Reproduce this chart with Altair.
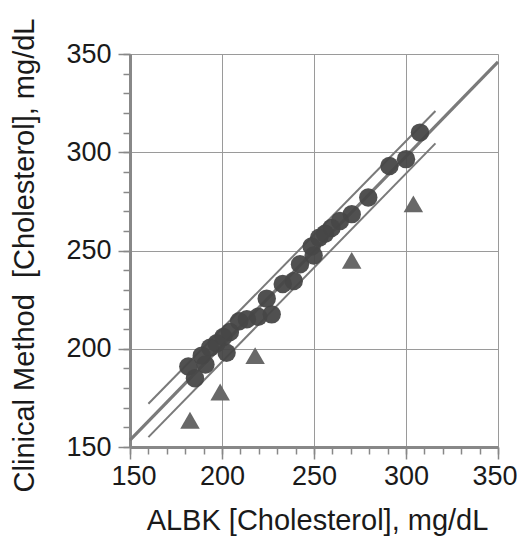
import altair as alt
import pandas as pd

# Circles: ALBK vs clinical method
circle_x = [307.6, 300.0, 291.0, 279.5, 270.5, 264.1, 259.5, 256.0, 252.8, 248.7,
            249.8, 242.4, 239.0, 233.0, 224.3, 227.0, 219.7, 213.5, 209.3, 204.3,
            200.7, 197.1, 193.5, 202.5, 189.0, 191.0, 181.7, 185.3]
circle_y = [310.0, 296.5, 293.0, 277.0, 268.5, 265.0, 261.5, 258.5, 256.5, 252.0,
            247.5, 243.0, 234.5, 233.0, 225.5, 217.5, 216.3, 215.0, 214.0, 208.5,
            206.0, 202.8, 200.5, 198.0, 196.5, 192.0, 191.0, 185.0]

# Triangles: outliers
tri_x = [304.0, 270.5, 218.0, 199.0, 182.6]
tri_y = [273.7, 245.0, 196.5, 178.0, 163.6]

# Regression line and confidence band lines
fit_x = [150, 350]
fit_y = [153.5, 346.0]
upper_x = [160, 316]
upper_y = [172.0, 321.0]
lower_x = [160, 316]
lower_y = [155.0, 304.5]

major_ticks = [150, 200, 250, 300, 350]
minor_ticks = list(range(150, 351, 10))

FONT = "Liberation Sans"
TXT = "#1a1a1a"
AX = "#888888"

xs = alt.Scale(domain=[150, 350], nice=False, zero=False)
ys = alt.Scale(domain=[150, 350], nice=False, zero=False)

x_axis = alt.Axis(orient="bottom", values=major_ticks, tickSize=12, tickColor=AX, tickWidth=1.5,
                  domainColor=AX, domainWidth=3, grid=True, gridColor="#9a9a9a", gridWidth=1,
                  labelFont=FONT, labelFontSize=27, labelColor=TXT, labelPadding=4,
                  labelFlush=True, labelFlushOffset=19, labelOverlap=False,
                  title="ALBK [Cholesterol], mg/dL", titleFont=FONT, titleFontSize=29,
                  titleFontWeight="normal", titleColor=TXT, titleX=187, titleY=82,
                  titleBaseline="alphabetic", titleAlign="center")
y_axis = alt.Axis(orient="left", values=major_ticks, tickSize=12, tickColor=AX, tickWidth=1.5,
                  domainColor=AX, domainWidth=3, grid=True, gridColor="#9a9a9a", gridWidth=1,
                  labelFont=FONT, labelFontSize=27, labelColor=TXT, labelPadding=7,
                  labelFlush=False, labelOverlap=False,
                  title="Clinical Method \u00a0[Cholesterol], mg/dL", titleFont=FONT, titleFontSize=29,
                  titleFontWeight="normal", titleColor=TXT, titleX=-97, titleY=201,
                  titleAngle=-90, titleBaseline="alphabetic", titleAlign="center")

x_minor = alt.Axis(orient="bottom", values=minor_ticks, tickSize=7, tickColor=AX, tickWidth=1.5,
                   labels=False, domain=False, grid=False, title=None)
y_minor = alt.Axis(orient="left", values=minor_ticks, tickSize=7, tickColor=AX, tickWidth=1.5,
                   labels=False, domain=False, grid=False, title=None)

circles = pd.DataFrame({"x": circle_x, "y": circle_y})
tris = pd.DataFrame({"x": tri_x, "y": tri_y})
lines = pd.DataFrame({
    "x": fit_x + upper_x + lower_x,
    "y": fit_y + upper_y + lower_y,
    "line": ["fit"] * 2 + ["upper"] * 2 + ["lower"] * 2,
})

fit_layer = alt.Chart(lines[lines.line == "fit"]).mark_line(color="#7a7a7a", strokeWidth=3.2).encode(
    x=alt.X("x:Q", scale=xs, axis=x_axis), y=alt.Y("y:Q", scale=ys, axis=y_axis))
band_layer = alt.Chart(lines[lines.line != "fit"]).mark_line(color="#7a7a7a", strokeWidth=2).encode(
    x=alt.X("x:Q", scale=xs, axis=x_axis), y=alt.Y("y:Q", scale=ys, axis=y_axis), detail="line:N")
circle_layer = alt.Chart(circles).mark_point(shape="circle", filled=True, size=340,
                                             color="#474747", opacity=0.95).encode(
    x=alt.X("x:Q", scale=xs, axis=x_axis), y=alt.Y("y:Q", scale=ys, axis=y_axis))
tri_layer = alt.Chart(tris).mark_point(shape="triangle-up", filled=True, size=380,
                                       color="#686868", opacity=1).encode(
    x=alt.X("x:Q", scale=xs, axis=x_axis), y=alt.Y("y:Q", scale=ys, axis=y_axis))

main = alt.layer(fit_layer, band_layer, circle_layer, tri_layer)

minor = alt.Chart(circles).mark_point(opacity=0).encode(
    x=alt.X("x:Q", scale=xs, axis=x_minor), y=alt.Y("y:Q", scale=ys, axis=y_minor))

chart = alt.layer(main, minor).resolve_axis(x="independent", y="independent").properties(
    width=368, height=393,
    autosize=alt.AutoSizeParams(type="none"),
    padding={"left": 122, "top": 46, "right": 19, "bottom": 89},
).configure_view(stroke=None).configure(background="white")

chart.save("out.html", embed_options={"renderer": "svg", "actions": False})
